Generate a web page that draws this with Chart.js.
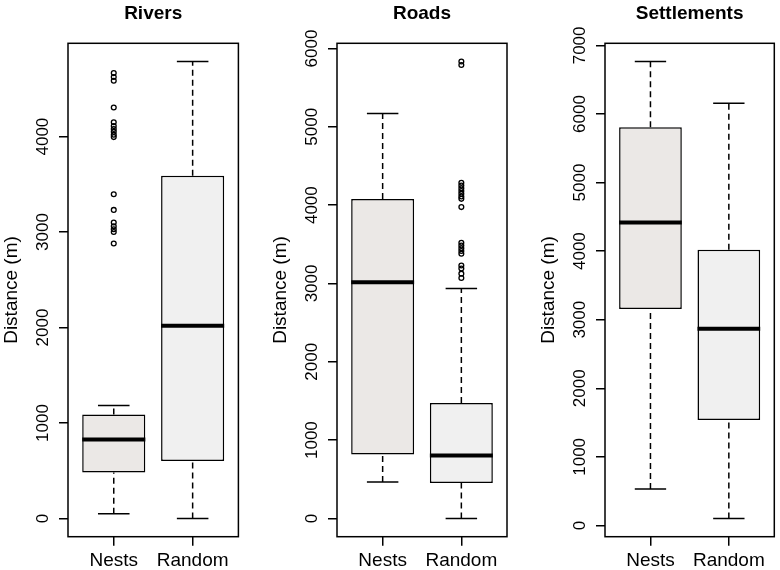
<!DOCTYPE html>
<html>
<head>
<meta charset="utf-8">
<script src="https://cdn.jsdelivr.net/npm/chart.js@4/dist/chart.umd.min.js"></script>
<style>
  html, body { margin: 0; padding: 0; background: #fff; }
  #wrap { position: relative; width: 780px; height: 570px; overflow: hidden; background: #fff; }
  #wrap canvas { position: absolute; top: 0; }
</style>
</head>
<body>
<div id="wrap">
  <canvas id="c0" width="268" height="570"></canvas>
  <canvas id="c1" width="268" height="570"></canvas>
  <canvas id="c2" width="268" height="570"></canvas>
</div>
<script>
const panels = ['Rivers', 'Roads', 'Settlements'];
const groups = ['Nests', 'Random'];
const groupColors = ['#ebe8e6', '#f0f0f0'];
const yTitle = 'Distance (m)';

// [lower whisker, Q1, median, Q3, upper whisker]
const riversNests = [48, 482, 828, 1090, 1184];
const riversRandom = [0, 601, 2019, 3591, 4786];
const roadsNests = [465, 817, 3014, 4079, 5169];
const roadsRandom = [0, 452, 805, 1474, 2937];
const settlementsNests = [531, 3155, 4417, 5808, 6764];
const settlementsRandom = [102, 1536, 2867, 4019, 6157];

const riversNestsOut = [4665, 4625, 4585, 4305, 4150, 4110, 4080, 4050, 4020, 3995,
                        3396, 3232, 3100, 3060, 3030, 3000, 2880];
const riversRandomOut = [];
const roadsNestsOut = [];
const roadsRandomOut = [5833, 5790, 4285, 4250, 4215, 4180, 4145, 4110, 4080, 3975,
                        3520, 3485, 3450, 3415, 3380, 3230, 3190, 3125, 3070];
const settlementsNestsOut = [];
const settlementsRandomOut = [];

const riversTicks = [0, 1000, 2000, 3000, 4000];
const roadsTicks = [0, 1000, 2000, 3000, 4000, 5000, 6000];
const settlementsTicks = [0, 1000, 2000, 3000, 4000, 5000, 6000, 7000];

const stats = [[riversNests, riversRandom], [roadsNests, roadsRandom], [settlementsNests, settlementsRandom]];
const outliers = [[riversNestsOut, riversRandomOut], [roadsNestsOut, roadsRandomOut], [settlementsNestsOut, settlementsRandomOut]];
const yTicks = [riversTicks, roadsTicks, settlementsTicks];

// plot region of each panel in the page
const plotLeft = [68.3, 336.7, 605];
const plotRight = [238.7, 506.7, 774.3];
const AXIS_W = 80;
const FONT = '"Liberation Sans", Arial, Helvetica, sans-serif';

const boxDetails = {
  id: 'boxDetails',
  beforeDatasetsDraw(chart, args, opts) {
    const {ctx, scales: {x, y}} = chart;
    ctx.save();
    ctx.strokeStyle = '#000';
    ctx.lineWidth = 1.5;
    opts.stats.forEach((s, i) => {
      const cx = x.getPixelForValue(i + 1);
      ctx.setLineDash([6, 4]);
      ctx.beginPath();
      ctx.moveTo(cx, y.getPixelForValue(s[0]));
      ctx.lineTo(cx, y.getPixelForValue(s[1]));
      ctx.moveTo(cx, y.getPixelForValue(s[3]));
      ctx.lineTo(cx, y.getPixelForValue(s[4]));
      ctx.stroke();
      ctx.setLineDash([]);
      const l = x.getPixelForValue(i + 1 - 0.2), r = x.getPixelForValue(i + 1 + 0.2);
      ctx.beginPath();
      [s[0], s[4]].forEach(v => {
        const py = y.getPixelForValue(v);
        ctx.moveTo(l, py);
        ctx.lineTo(r, py);
      });
      ctx.stroke();
    });
    ctx.restore();
  },
  afterDatasetsDraw(chart, args, opts) {
    const {ctx, chartArea: a, scales: {x, y}} = chart;
    ctx.save();
    ctx.strokeStyle = '#000';
    ctx.lineWidth = 4;
    opts.stats.forEach((s, i) => {
      const py = y.getPixelForValue(s[2]);
      ctx.beginPath();
      ctx.moveTo(x.getPixelForValue(i + 1 - 0.4), py);
      ctx.lineTo(x.getPixelForValue(i + 1 + 0.4), py);
      ctx.stroke();
    });
    ctx.lineWidth = 1.5;
    ctx.strokeRect(a.left, a.top, a.right - a.left, a.bottom - a.top);
    ctx.fillStyle = '#000';
    ctx.font = 'bold 19px ' + FONT;
    ctx.textAlign = 'center';
    ctx.textBaseline = 'alphabetic';
    ctx.fillText(opts.title, (a.left + a.right) / 2, 19);
    ctx.restore();
  }
};

function makeChart(p) {
  const all = stats[p].flat().concat(outliers[p].flat());
  const lo = Math.min(...all), hi = Math.max(...all);
  const pad = (hi - lo) * 0.04;
  const canvas = document.getElementById('c' + p);
  canvas.style.left = (plotLeft[p] - AXIS_W) + 'px';
  const rightPad = canvas.width - AXIS_W - (plotRight[p] - plotLeft[p]);

  const boxes = {
    type: 'bar',
    data: groups.map((g, i) => ({x: i + 1, y: [stats[p][i][1], stats[p][i][3]]})),
    backgroundColor: groupColors,
    borderColor: '#000',
    borderWidth: 1.5,
    borderSkipped: false,
    categoryPercentage: 1,
    barPercentage: 0.8,
    order: 2
  };
  const points = {
    type: 'scatter',
    data: outliers[p].flatMap((arr, i) => arr.map(v => ({x: i + 1, y: v}))),
    pointStyle: 'circle',
    pointRadius: 2.4,
    pointBorderWidth: 1.3,
    pointBorderColor: '#000',
    pointBackgroundColor: 'rgba(0,0,0,0)',
    order: 1
  };

  return new Chart(canvas, {
    type: 'bar',
    data: {datasets: [boxes, points]},
    plugins: [boxDetails],
    options: {
      responsive: false,
      animation: false,
      events: [],
      layout: {padding: {left: 0, right: rightPad, top: 43.3, bottom: 0}},
      plugins: {
        legend: {display: false},
        tooltip: {enabled: false},
        title: {display: false},
        boxDetails: {stats: stats[p], title: panels[p]}
      },
      scales: {
        x: {
          type: 'linear',
          offset: false,
          min: 0.42,
          max: 2.58,
          afterBuildTicks: s => { s.ticks = groups.map((g, i) => ({value: i + 1})); },
          afterFit: s => { s.height = 33.3; },
          border: {display: false},
          grid: {offset: false, drawOnChartArea: false, drawTicks: true, tickLength: 9, color: '#000', lineWidth: 1.5},
          ticks: {
            color: '#000',
            padding: 4,
            maxRotation: 0,
            font: {family: FONT, size: 19},
            callback: v => groups[v - 1]
          }
        },
        y: {
          min: lo - pad,
          max: hi + pad,
          afterBuildTicks: s => { s.ticks = yTicks[p].map(v => ({value: v})); },
          afterFit: s => { s.width = AXIS_W; },
          border: {display: false},
          grid: {drawOnChartArea: false, drawTicks: true, tickLength: 9, color: '#000', lineWidth: 1.5},
          ticks: {
            color: '#000',
            minRotation: 90,
            maxRotation: 90,
            crossAlign: 'center',
            padding: -3.4,
            font: {family: FONT, size: 17},
            callback: v => String(v)
          },
          title: {
            display: true,
            text: yTitle,
            color: '#000',
            font: {family: FONT, size: 19, lineHeight: 1.2},
            padding: {top: 12.6, bottom: 0}
          }
        }
      }
    }
  });
}

panels.forEach((name, p) => makeChart(p));
</script>
</body>
</html>
